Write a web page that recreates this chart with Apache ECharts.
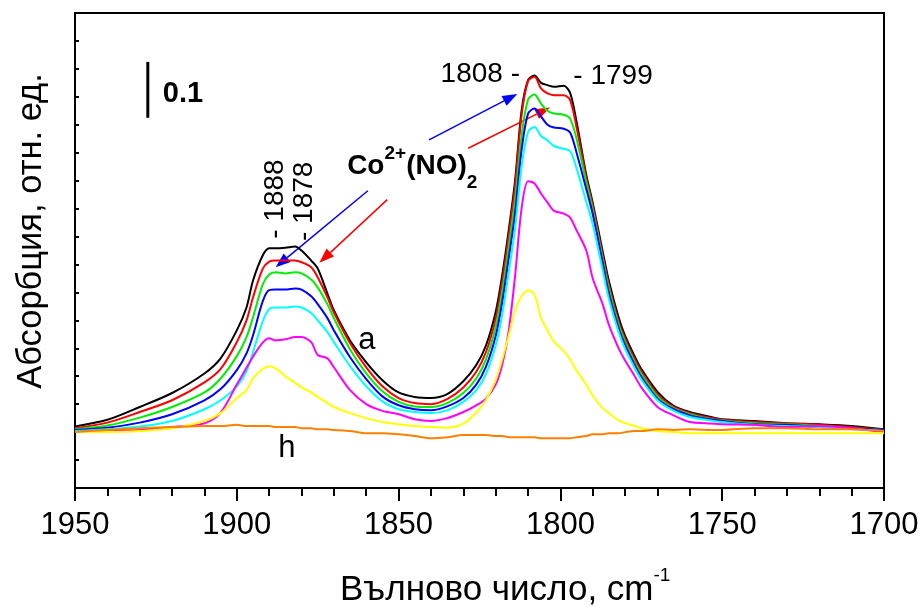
<!DOCTYPE html>
<html>
<head>
<meta charset="utf-8">
<script src="https://cdn.jsdelivr.net/npm/echarts@6/dist/echarts.min.js"></script>
<style>
  html, body { margin: 0; padding: 0; background: #fff; }
  #chart { width: 922px; height: 607px; }
</style>
</head>
<body>
<div id="chart"></div>
<script>
// Wavenumber grid (cm-1) shared by all spectra
const wavenumbers = [1950,1940,1930,1920,1910,1905,1900,1897,1895,1892,1890,1888,1885,1882,1880,1877,1875,1872,1870,1865,1860,1855,1850,1845,1840,1835,1830,1826,1823,1820,1818,1816,1814,1812,1810,1808,1806,1804,1802,1799,1797,1795,1792,1790,1787,1785,1782,1780,1777,1775,1770,1765,1760,1755,1750,1740,1730,1720,1710,1700];

// Absorbance of each spectrum (a ... h)
const specA = [0.010,0.022,0.045,0.070,0.105,0.132,0.182,0.223,0.271,0.316,0.329,0.329,0.330,0.332,0.325,0.307,0.293,0.248,0.218,0.164,0.125,0.093,0.071,0.063,0.061,0.068,0.091,0.120,0.155,0.215,0.280,0.360,0.450,0.575,0.630,0.638,0.625,0.621,0.618,0.620,0.607,0.555,0.460,0.410,0.325,0.270,0.205,0.172,0.135,0.113,0.072,0.047,0.036,0.029,0.023,0.020,0.016,0.014,0.011,0.005];
const specB = [0.007,0.017,0.036,0.057,0.089,0.113,0.161,0.200,0.241,0.292,0.305,0.307,0.307,0.307,0.304,0.295,0.277,0.241,0.214,0.159,0.116,0.082,0.061,0.052,0.050,0.059,0.080,0.108,0.143,0.203,0.268,0.350,0.440,0.567,0.628,0.636,0.615,0.606,0.603,0.603,0.594,0.545,0.455,0.405,0.318,0.263,0.198,0.167,0.130,0.109,0.068,0.045,0.034,0.027,0.022,0.018,0.016,0.013,0.009,0.004];
const specC = [0.005,0.012,0.026,0.045,0.071,0.096,0.136,0.170,0.205,0.264,0.282,0.286,0.284,0.286,0.284,0.273,0.259,0.229,0.204,0.148,0.105,0.073,0.054,0.046,0.045,0.052,0.070,0.096,0.130,0.188,0.250,0.330,0.415,0.530,0.595,0.604,0.588,0.575,0.570,0.568,0.561,0.525,0.447,0.398,0.312,0.256,0.192,0.162,0.125,0.104,0.064,0.043,0.032,0.025,0.021,0.016,0.014,0.011,0.007,0.004];
const specD = [0.004,0.008,0.017,0.032,0.057,0.077,0.111,0.141,0.173,0.234,0.254,0.255,0.255,0.257,0.255,0.243,0.229,0.204,0.182,0.134,0.095,0.064,0.048,0.041,0.039,0.046,0.061,0.085,0.117,0.172,0.232,0.310,0.392,0.505,0.570,0.579,0.565,0.550,0.545,0.543,0.536,0.500,0.435,0.390,0.305,0.248,0.186,0.156,0.120,0.099,0.060,0.041,0.030,0.024,0.020,0.014,0.013,0.009,0.007,0.004];
const specE = [0.002,0.005,0.010,0.020,0.041,0.057,0.082,0.109,0.143,0.198,0.220,0.223,0.223,0.225,0.223,0.213,0.200,0.179,0.161,0.118,0.082,0.055,0.041,0.036,0.034,0.039,0.054,0.075,0.104,0.155,0.210,0.285,0.365,0.475,0.537,0.546,0.530,0.522,0.512,0.507,0.503,0.472,0.412,0.372,0.292,0.238,0.179,0.149,0.114,0.094,0.057,0.038,0.027,0.022,0.018,0.013,0.011,0.009,0.005,0.002];
const specF = [0.000,0.002,0.004,0.009,0.016,0.035,0.085,0.115,0.135,0.160,0.168,0.164,0.166,0.170,0.170,0.161,0.138,0.132,0.116,0.075,0.050,0.038,0.032,0.023,0.020,0.025,0.036,0.048,0.060,0.085,0.120,0.180,0.280,0.400,0.449,0.445,0.427,0.411,0.396,0.391,0.384,0.361,0.325,0.275,0.230,0.192,0.150,0.128,0.100,0.080,0.045,0.030,0.018,0.016,0.014,0.013,0.009,0.011,0.007,0.000];
const specG = [0.000,0.000,0.002,0.007,0.020,0.034,0.061,0.075,0.096,0.113,0.118,0.114,0.100,0.088,0.080,0.071,0.063,0.052,0.045,0.034,0.025,0.018,0.014,0.011,0.009,0.008,0.015,0.035,0.058,0.093,0.130,0.172,0.218,0.243,0.254,0.246,0.205,0.182,0.162,0.145,0.130,0.110,0.085,0.065,0.043,0.034,0.021,0.016,0.011,0.007,0.002,0.000,-0.002,-0.002,-0.002,-0.002,-0.002,-0.002,-0.002,-0.002];
const specH = [0.000,0.004,0.007,0.009,0.011,0.011,0.013,0.011,0.011,0.011,0.011,0.009,0.009,0.009,0.007,0.007,0.005,0.005,0.004,0.002,-0.002,-0.002,-0.004,-0.007,-0.011,-0.009,-0.005,-0.005,-0.005,-0.007,-0.007,-0.009,-0.009,-0.009,-0.009,-0.009,-0.011,-0.011,-0.011,-0.011,-0.011,-0.009,-0.007,-0.004,-0.004,-0.002,-0.002,0.000,0.002,0.002,0.005,0.004,0.005,0.004,0.004,0.007,0.007,0.005,0.005,0.002];

const spectra = [
  { name: 'a', values: specA, color: '#000000' },
  { name: 'b', values: specB, color: '#FF0000' },
  { name: 'c', values: specC, color: '#00EE00' },
  { name: 'd', values: specD, color: '#0000FF' },
  { name: 'e', values: specE, color: '#00FFFF' },
  { name: 'f', values: specF, color: '#FF00FF' },
  { name: 'g', values: specG, color: '#FFFF00' },
  { name: 'h', values: specH, color: '#FF8000' }
];

// Axis ranges
const xMin = 1700, xMax = 1950, xStep = 50;
const yMin = -0.1, yMax = 0.75, yStep = 0.05;

// Annotations in data coordinates [wavenumber, absorbance]
const bandLabels = [
  { text: '- 1888', at: [1888, 0.346], vertical: true },
  { text: '- 1878', at: [1879, 0.342], vertical: true },
  { text: '1808 -', at: [1812.5, 0.641], align: 'right' },
  { text: '- 1799', at: [1796, 0.636], align: 'left' }
];
const arrows = [
  { color: '#0000FF', from: [1859.5, 0.432], to: [1888.0, 0.295] },
  { color: '#FF0000', from: [1853.5, 0.416], to: [1874.5, 0.303] },
  { color: '#0000FF', from: [1840.6, 0.523], to: [1813.3, 0.605] },
  { color: '#FF0000', from: [1828.5, 0.508], to: [1803.2, 0.581] }
];
const curveTags = [
  { text: 'a', at: [1859.8, 0.164] },
  { text: 'h', at: [1884.5, -0.029] }
];
const scaleBar = { at: 1927.5, from: 0.5625, length: 0.1, label: '0.1' };
const speciesLabelAt = [1865.9, 0.475];

const FONT = '"Liberation Sans", Arial, sans-serif';
const chart = echarts.init(document.getElementById('chart'));

chart.setOption({
  animation: false,
  grid: { left: 75, right: 38, top: 13, bottom: 119, outerBoundsMode: 'none', containLabel: false,
          show: true, borderColor: '#000', borderWidth: 2 },
  xAxis: {
    type: 'value', min: xMin, max: xMax, interval: xStep, inverse: true,
    axisLine: { show: true, onZero: false, lineStyle: { color: '#000', width: 2 } },
    axisTick: { show: true, inside: false, length: 13, lineStyle: { color: '#000', width: 2 } },
    minorTick: { show: true, splitNumber: 5, length: 8, lineStyle: { color: '#000', width: 2 } },
    splitLine: { show: false },
    axisLabel: { color: '#000', fontSize: 31, fontFamily: FONT, margin: 22,
                 formatter: v => String(v), hideOverlap: false, showMinLabel: true, showMaxLabel: true }
  },
  yAxis: {
    type: 'value', min: yMin, max: yMax, interval: yStep,
    axisLine: { show: true, onZero: false, lineStyle: { color: '#000', width: 2 } },
    axisTick: { show: true, inside: true, length: 4, lineStyle: { color: '#000', width: 2 } },
    axisLabel: { show: false },
    splitLine: { show: false }
  },
  series: spectra.map(s => ({
    type: 'line', name: s.name, silent: true,
    data: wavenumbers.map((w, i) => [w, s.values[i]]),
    showSymbol: false, symbol: 'none', smooth: 0.3,
    lineStyle: { color: s.color, width: 2 }
  }))
});

// ---- overlay text and arrows ----
const P = (pt) => chart.convertToPixel({ xAxisIndex: 0, yAxisIndex: 0 }, pt);
const measure = document.createElement('canvas').getContext('2d');
function textWidth(str, size, weight) {
  measure.font = (weight || 'normal') + ' ' + size + 'px "Liberation Sans"';
  return measure.measureText(str).width;
}
function txt(x, y, text, size, opts) {
  opts = opts || {};
  return {
    type: 'text', x: x, y: y, rotation: opts.rotation || 0, silent: true,
    style: {
      text: text, fontSize: size, fontFamily: FONT, fontWeight: opts.weight || 'normal',
      fill: '#000', align: opts.align || 'left', verticalAlign: opts.valign || 'middle'
    }
  };
}
// Lay out pieces of a formula side by side
function runs(x, y, parts) {
  let cx = x;
  return parts.map(p => {
    const el = txt(cx, y + (p.dy || 0), p.text, p.size, { weight: p.weight });
    cx += textWidth(p.text, p.size, p.weight);
    return el;
  });
}

const g = [];
arrows.forEach(a => {
  const s = P(a.from), t = P(a.to);
  const dx = t[0] - s[0], dy = t[1] - s[1];
  const L = Math.hypot(dx, dy), ux = dx / L, uy = dy / L;
  const hl = 15, hw = 5.5;
  const bx = t[0] - ux * hl, by = t[1] - uy * hl;
  g.push({ type: 'line', silent: true, shape: { x1: s[0], y1: s[1], x2: bx, y2: by },
           style: { stroke: a.color, lineWidth: 1.5 } });
  g.push({ type: 'polygon', silent: true,
           shape: { points: [[t[0], t[1]], [bx - uy * hw, by + ux * hw], [bx + uy * hw, by - ux * hw]] },
           style: { fill: a.color } });
});

bandLabels.forEach(b => {
  const p = P(b.at);
  if (b.vertical) g.push(txt(p[0], p[1], b.text, 28, { rotation: Math.PI / 2, align: 'left' }));
  else g.push(txt(p[0], p[1], b.text, 28, { align: b.align }));
});

curveTags.forEach(c => {
  const p = P(c.at);
  g.push(txt(p[0], p[1], c.text, 31, { align: 'center' }));
});

// 0.1 absorbance scale bar
const sb0 = P([scaleBar.at, scaleBar.from]), sb1 = P([scaleBar.at, scaleBar.from + scaleBar.length]);
g.push({ type: 'line', silent: true, shape: { x1: sb0[0], y1: sb0[1], x2: sb1[0], y2: sb1[1] },
         style: { stroke: '#000', lineWidth: 3 } });
g.push(txt(sb0[0] + 15, (sb0[1] + sb1[1]) / 2 + 4, scaleBar.label, 29, { weight: 'bold' }));

// Co2+(NO)2 species label
const sp = P(speciesLabelAt);
g.push(...runs(sp[0], sp[1], [
  { text: 'Co', size: 28, weight: 'bold' },
  { text: '2+', size: 19, weight: 'bold', dy: -13 },
  { text: '(NO)', size: 28, weight: 'bold' },
  { text: '2', size: 19, weight: 'bold', dy: 16 }
]));

// Axis titles
g.push(...runs(340, 590, [
  { text: 'Вълново число, cm', size: 35 },
  { text: '-1', size: 19, dy: -14 }
]));
g.push(txt(31, 231, 'Абсорбция, отн. ед.', 34.5, { rotation: Math.PI / 2, align: 'center' }));

chart.setOption({ graphic: g });
</script>
</body>
</html>
